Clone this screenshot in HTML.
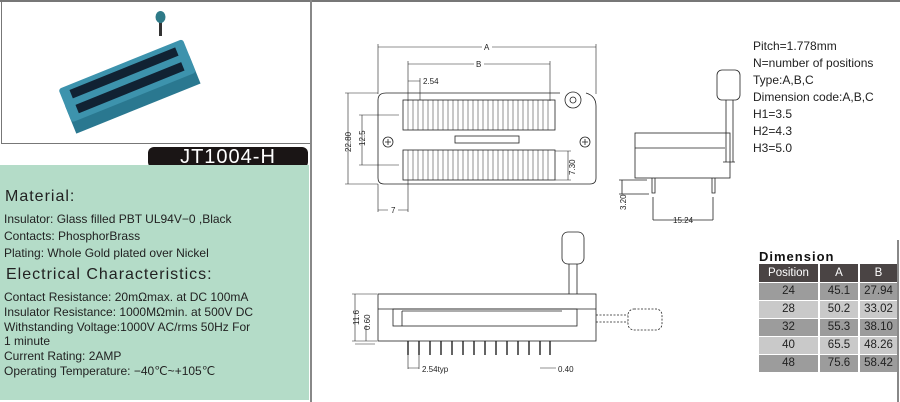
<!DOCTYPE html><html><head><style>
body{margin:0;width:900px;height:402px;overflow:hidden;background:#fff;font-family:"Liberation Sans",sans-serif;position:relative}
.a{position:absolute;white-space:nowrap}
table td{padding:0;overflow:hidden}
</style></head><body>
<div class="a" style="left:0;top:0;width:900px;height:2px;background:#777"></div>
<div class="a" style="left:1px;top:1px;width:308px;height:141px;border:1px solid #777"></div>
<div class="a" style="left:310px;top:0;width:2px;height:402px;background:#888"></div>
<svg class="a" style="left:0;top:0" width="310" height="145">
<g transform="rotate(-22 130 85)">
<rect x="62" y="80" width="134" height="30" fill="#2a7890"/>
<rect x="62" y="62" width="134" height="36" rx="3" fill="#3d93ad"/>
<g fill="#123">
<rect x="72" y="67" width="114" height="9"/><rect x="72" y="83" width="114" height="9"/></g>
</g>
<rect x="159" y="18" width="3" height="18" fill="#333"/>
<ellipse cx="160.5" cy="17" rx="5" ry="6" fill="#2e7a88"/>
</svg>
<div class="a" style="left:148px;top:147px;width:160px;height:21px;background:#1a1515;border-radius:6px;color:#fff;font-size:20px;line-height:21px;text-align:center;letter-spacing:1px">JT1004-H</div>
<div class="a" style="left:0;top:165px;width:309px;height:235px;background:#b4dcc8"></div>
<div class="a" style="left:5px;top:188px;font-size:16px;letter-spacing:1px;color:#222">Material:</div>
<div class="a" style="left:4px;top:211px;font-size:12px;color:#222;line-height:17px">Insulator: Glass filled PBT UL94V−0 ,Black<br>Contacts: PhosphorBrass<br>Plating: Whole Gold plated over Nickel</div>
<div class="a" style="left:6px;top:266px;font-size:16px;letter-spacing:1px;color:#222">Electrical Characteristics:</div>
<div class="a" style="left:4px;top:290px;font-size:12px;color:#222;line-height:14.8px">Contact Resistance: 20mΩmax. at DC 100mA<br>Insulator Resistance: 1000MΩmin. at 500V DC<br>Withstanding Voltage:1000V AC/rms 50Hz For<br>1 minute<br>Current Rating: 2AMP<br>Operating Temperature: −40℃~+105℃</div>
<div class="a" style="left:753px;top:38px;font-size:12px;color:#222;line-height:17px">Pitch=1.778mm<br>N=number of positions<br>Type:A,B,C<br>Dimension code:A,B,C<br>H1=3.5<br>H2=4.3<br>H3=5.0</div>
<svg class="a" style="left:0;top:0" width="900" height="402" font-family="Liberation Sans" font-size="8" fill="none" stroke="#222" stroke-width="0.8">
<path d="M386 93 H560 M586 93 Q596 96 596 106 V178 Q596 184 590 184 H384 Q378 184 378 178 V100 Q378 93 386 93"/>
<circle cx="573" cy="100" r="8"/><circle cx="573" cy="100" r="3"/>
<rect x="403" y="100" width="152" height="30"/><rect x="403" y="150" width="152" height="30"/>
<g stroke-width="0.5"><path id="t" d="M408 100v30M413 100v30M418 100v30M423 100v30M428 100v30M433 100v30M438 100v30M443 100v30M448 100v30M453 100v30M458 100v30M463 100v30M468 100v30M473 100v30M478 100v30M483 100v30M488 100v30M493 100v30M498 100v30M503 100v30M508 100v30M513 100v30M518 100v30M523 100v30M528 100v30M533 100v30M538 100v30M543 100v30M548 100v30"/><use href="#t" y="50"/></g>
<rect x="455" y="136" width="64" height="7"/>
<circle cx="388" cy="142" r="5"/><path d="M385 142h6M388 139v6"/><circle cx="585" cy="142" r="5"/><path d="M582 142h6M585 139v6"/>
<g stroke-width="0.6"><path d="M378 47H596M378 44v50M596 44v50M408 64H550M408 61v40M550 61v40M408 81h12M420 78v22M348 93v91M345 93h33M345 184h33M362 115v50M359 115h40M359 165h40M568 151v29M555 151h16M555 180h16M378 210h30M378 184v28M408 180v32"/></g>
<g fill="#222" stroke="none" font-size="8"><rect x="482" y="43" width="10" height="8" fill="#fff"/><text x="484" y="50">A</text><rect x="474" y="60" width="10" height="8" fill="#fff"/><text x="476" y="67">B</text><text x="423" y="84">2.54</text><rect x="388" y="206" width="10" height="8" fill="#fff"/><text x="391" y="213">7</text>
<text transform="translate(351 152) rotate(-90)">22.80</text><text transform="translate(365 146) rotate(-90)">12.5</text><text transform="translate(575 175) rotate(-90)">7.30</text>
<text transform="translate(626 210) rotate(-90)">3.20</text><rect x="671" y="216" width="26" height="8" fill="#fff"/><text x="673" y="223">15.24</text>
<text x="422" y="372">2.54typ</text><text x="558" y="372">0.40</text><text transform="translate(359 325) rotate(-90)">11.6</text><text transform="translate(370 330) rotate(-90)">0.60</text></g>
<rect x="635" y="133" width="95" height="45"/><path d="M635 148h90"/>
<rect x="717" y="70" width="23" height="30" rx="5"/><path d="M726 100v62M733 100v62M723 162h12"/>
<path d="M652 178v15h3v-15M712 178v15h3v-15M622 180v14M619 180h28M619 194h30M653 197v23M713 197v23M653 220h60"/>
<rect x="378" y="294" width="218" height="47"/><path d="M378 309H596"/>
<rect x="393" y="309" width="184" height="17"/><path d="M402 311v15M402 311h160"/>
<rect x="562" y="232" width="22" height="32" rx="6"/><path d="M569 264v30M577 264v30"/>
<g stroke-dasharray="2 1.5"><rect x="628" y="309" width="34" height="21" rx="6"/><path d="M596 315h32M596 322h32"/></g>
<g stroke-width="1.4"><path d="M408 341v14M419 341v14M430 341v14M441 341v14M452 341v14M463 341v14M474 341v14M485 341v14M496 341v14M507 341v14M518 341v14M529 341v14M540 341v14M550 341v14"/></g>
<g stroke-width="0.6"><path d="M355 294v47M352 294h25M352 341h25M366 325v16M408 355v14M419 355v14M408 368h11M540 368h16M355 344h20"/></g>
</svg>
<div class="a" style="left:759px;top:249px;font-size:13px;font-weight:bold;letter-spacing:1px;color:#111">Dimension</div>
<div class="a" style="left:897px;top:240px;width:2px;height:162px;background:#888"></div>
<table class="a" style="left:759px;top:264px;width:138px;table-layout:fixed;border-collapse:collapse;font-size:11.5px;text-align:center;color:#222">
<colgroup><col style="width:60px"><col style="width:40px"><col style="width:38px"></colgroup>
<tr style="background:#4a4444;color:#fff;height:18px"><td style="border-right:2px solid #fff">Position</td><td style="border-right:2px solid #fff">A</td><td>B</td></tr>
<tr style="background:#9c9c9c;height:18px;border-top:1px solid #fff"><td style="border-right:2px solid #fff">24</td><td style="border-right:2px solid #fff">45.1</td><td>27.94</td></tr>
<tr style="background:#c9c9c9;height:18px;border-top:1px solid #fff"><td style="border-right:2px solid #fff">28</td><td style="border-right:2px solid #fff">50.2</td><td>33.02</td></tr>
<tr style="background:#9c9c9c;height:18px;border-top:1px solid #fff"><td style="border-right:2px solid #fff">32</td><td style="border-right:2px solid #fff">55.3</td><td>38.10</td></tr>
<tr style="background:#c9c9c9;height:18px;border-top:1px solid #fff"><td style="border-right:2px solid #fff">40</td><td style="border-right:2px solid #fff">65.5</td><td>48.26</td></tr>
<tr style="background:#9c9c9c;height:18px;border-top:1px solid #fff"><td style="border-right:2px solid #fff">48</td><td style="border-right:2px solid #fff">75.6</td><td>58.42</td></tr>
</table>
</body></html>
